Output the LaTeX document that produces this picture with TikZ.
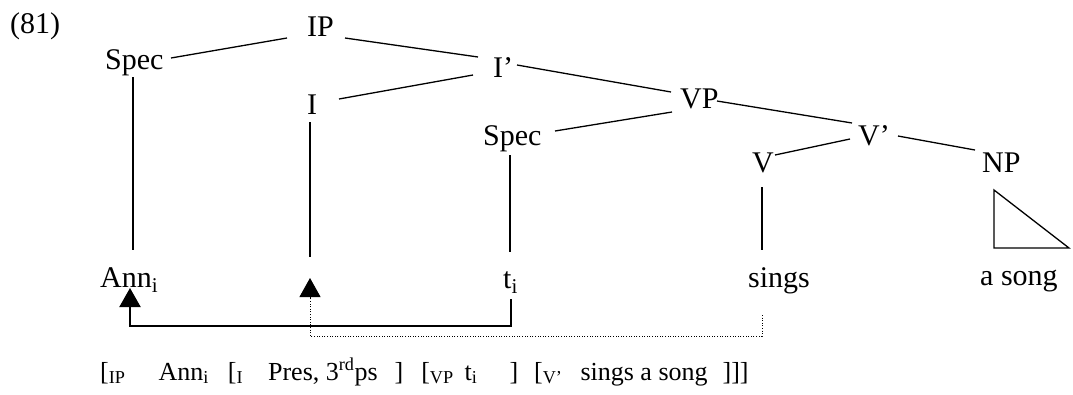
\documentclass[tikz,border=0pt]{standalone}
\usepackage{fontspec}
\setmainfont{Liberation Serif}
\usetikzlibrary{arrows.meta}
\begin{document}
\begin{tikzpicture}[x=1pt,y=-1pt,
  lbl/.style={anchor=base west,inner sep=0pt,font=\fontsize{30}{36}\selectfont},
  bottomtext/.style={anchor=base west,inner sep=0pt,font=\fontsize{26}{31}\selectfont},
  edge/.style={line width=1.3pt,line cap=butt},
  movearrow/.style={line width=2pt,-{Triangle[width=21pt,length=19pt]}},
  dotarrow/.style={line width=1pt,dash pattern=on 1pt off 1.6pt,-{Triangle[width=21pt,length=19pt]}}]
\useasboundingbox (0,0) rectangle (1073,394);
% labels
\node[lbl] (ex) at (10,33) {(81)};
\node[lbl] (IP) at (307,36) {IP};
\node[lbl] (SpecL) at (105,69) {Spec};
\node[lbl] (Ib) at (493,77) {I’};
\node[lbl] (I) at (307,114) {I};
\node[lbl] (SpecM) at (483,145) {Spec};
\node[lbl] (VP) at (680,108) {VP};
\node[lbl] (Vb) at (858,145) {V’};
\node[lbl] (V) at (752,172) {V};
\node[lbl] (NP) at (982,172) {NP};
\node[lbl] (Ann) at (100,287) {Ann\textsubscript{i}};
\node[lbl] (ti) at (503,288) {t\textsubscript{i}};
\node[lbl] (sings) at (748,287) {sings};
\node[lbl] (asong) at (980,285) {a song};
\coordinate (Iend) at (310,257);
\coordinate (Itip) at (310,278);
% tree edges
\draw[edge] ([shift={(-20,2)}]IP.base west) -- ([shift={(66,-11)}]SpecL.base west);
\draw[edge] ([shift={(38,2)}]IP.base west) -- ([shift={(-15,-20)}]Ib.base west);
\draw[edge] ([shift={(-20,-2)}]Ib.base west) -- ([shift={(32,-15)}]I.base west);
\draw[edge] ([shift={(24,-12)}]Ib.base west) -- ([shift={(-9,-16)}]VP.base west);
\draw[edge] ([shift={(-8,4)}]VP.base west) -- ([shift={(72,-14)}]SpecM.base west);
\draw[edge] ([shift={(37,-7)}]VP.base west) -- ([shift={(-6,-22)}]Vb.base west);
\draw[edge] ([shift={(-8,-6)}]Vb.base west) -- ([shift={(23,-17)}]V.base west);
\draw[edge] ([shift={(40,-9)}]Vb.base west) -- ([shift={(-7,-22)}]NP.base west);
% vertical lines
\draw[edge] ([shift={(28,8)}]SpecL.base west) -- ([shift={(33,-37)}]Ann.base west);
\draw[edge] ([shift={(3,8)}]I.base west) -- (Iend);
\draw[edge] ([shift={(27,10)}]SpecM.base west) -- ([shift={(7,-36)}]ti.base west);
\draw[edge] ([shift={(10,15)}]V.base west) -- ([shift={(14,-37)}]sings.base west);
% triangle
\draw[edge,line join=miter] ([shift={(12,18)}]NP.base west) -- ++(0,58) -- ++(75,0) -- cycle;
% movement arrows
\draw[movearrow] ([shift={(8,11)}]ti.base west) -- ++(0,27) -| ([shift={(30,1)}]Ann.base west);
\draw[dotarrow] ([shift={(14,28)}]sings.base west) -- ++(0,21) -| (Itip);
% bracketed string
\node[bottomtext] (gloss) at (100,380) {[\textsubscript{IP}\hspace{33pt}Ann\textsubscript{i}\hspace{19pt}[\textsubscript{I}\hspace{25pt}Pres, 3\textsuperscript{rd}ps\hspace{17pt}]\hspace{18pt}[\textsubscript{VP}\hspace{11pt}t\textsubscript{i}\hspace{32pt}]\hspace{16pt}[\textsubscript{V’}\hspace{18pt}sings a song\hspace{15pt}]]]};
\end{tikzpicture}
\end{document}
